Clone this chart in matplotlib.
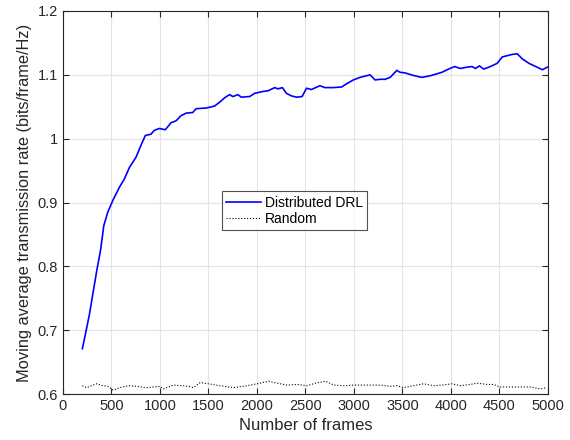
import matplotlib
matplotlib.use("Agg")
import matplotlib.pyplot as plt

plt.rcParams['font.family'] = ['Liberation Sans', 'DejaVu Sans']

drl_x = [200, 233, 274, 308, 349, 387, 421, 462, 513, 582, 633, 685, 753, 805, 849, 907,
         941, 993, 1055, 1114, 1166, 1217, 1269, 1338, 1373, 1476, 1562, 1614, 1666, 1717,
         1752, 1803, 1838, 1924, 1976, 2062, 2114, 2183, 2216, 2262, 2303, 2355, 2407, 2465,
         2510, 2562, 2648, 2700, 2786, 2873, 2924, 2993, 3062, 3114, 3166, 3218, 3269, 3321,
         3373, 3442, 3475, 3527, 3613, 3700, 3769, 3820, 3907, 3975, 4037, 4096, 4165, 4217,
         4252, 4293, 4338, 4407, 4476, 4528, 4580, 4631, 4683, 4735, 4804, 4873, 4942, 4994]
drl_y = [0.671, 0.695, 0.726, 0.757, 0.794, 0.825, 0.864, 0.885, 0.903, 0.924, 0.937, 0.955,
         0.971, 0.990, 1.005, 1.007, 1.013, 1.016, 1.014, 1.025, 1.028, 1.036, 1.040, 1.041,
         1.047, 1.048, 1.051, 1.057, 1.064, 1.069, 1.066, 1.069, 1.065, 1.066, 1.071, 1.074,
         1.075, 1.080, 1.078, 1.080, 1.071, 1.067, 1.065, 1.066, 1.079, 1.077, 1.083, 1.080,
         1.080, 1.081, 1.086, 1.092, 1.096, 1.098, 1.100, 1.092, 1.093, 1.093, 1.096, 1.107,
         1.104, 1.103, 1.099, 1.096, 1.098, 1.100, 1.104, 1.109, 1.113, 1.110, 1.112, 1.113,
         1.110, 1.114, 1.109, 1.113, 1.118, 1.128, 1.130, 1.132, 1.133, 1.125, 1.118, 1.113,
         1.108, 1.112]

rnd_x = [200, 241, 293, 345, 414, 466, 517, 586, 672, 759, 862, 1000, 1035, 1138, 1241,
         1293, 1345, 1414, 1500, 1621, 1759, 1897, 2000, 2121, 2207, 2310, 2414, 2517, 2603,
         2707, 2793, 2897, 3000, 3131, 3269, 3373, 3442, 3510, 3614, 3718, 3821, 3907, 4010,
         4097, 4200, 4269, 4373, 4441, 4500, 4610, 4714, 4817, 4921, 4990]
rnd_y = [0.613, 0.610, 0.613, 0.616, 0.613, 0.612, 0.606, 0.610, 0.613, 0.612, 0.610, 0.612,
         0.608, 0.614, 0.613, 0.612, 0.610, 0.618, 0.616, 0.613, 0.610, 0.613, 0.616, 0.620,
         0.617, 0.614, 0.615, 0.613, 0.617, 0.620, 0.614, 0.613, 0.614, 0.614, 0.614, 0.612,
         0.613, 0.610, 0.613, 0.616, 0.613, 0.614, 0.616, 0.613, 0.615, 0.617, 0.615, 0.615,
         0.611, 0.611, 0.611, 0.611, 0.608, 0.610]

x_ticks = [0, 500, 1000, 1500, 2000, 2500, 3000, 3500, 4000, 4500, 5000]
y_ticks = [0.6, 0.7, 0.8, 0.9, 1.0, 1.1, 1.2]
y_ticklabels = ['0.6', '0.7', '0.8', '0.9', '1', '1.1', '1.2']

fig = plt.figure(figsize=(5.7, 4.4), dpi=100)
ax = fig.add_axes([0.1105, 0.1045, 0.8509, 0.8705])

ax.plot(drl_x, drl_y, color='#0000ff', linewidth=1.2, label='Distributed DRL')
ax.plot(rnd_x, rnd_y, color='black', linestyle=':', linewidth=0.8, label='Random')

ax.set_xlim(0, 5000)
ax.set_ylim(0.6, 1.2)
ax.set_xticks(x_ticks)
ax.set_yticks(y_ticks)
ax.set_yticklabels(y_ticklabels)

tc = '#262626'
ax.grid(True, color='#e3e3e3', linewidth=0.8)
ax.set_axisbelow(True)
ax.tick_params(direction='in', top=True, right=True, labelsize=10.5, colors=tc, length=4)
for s in ax.spines.values():
    s.set_color(tc)
    s.set_linewidth(0.8)

ax.set_xlabel('Number of frames', fontsize=12, color=tc)
ax.set_ylabel('Moving average transmission rate (bits/frame/Hz)', fontsize=11.8, color=tc)

leg = ax.legend(loc='center', bbox_to_anchor=(0.478, 0.478), fontsize=10, frameon=True,
                fancybox=False, edgecolor=tc, handlelength=2.5, borderpad=0.3,
                labelspacing=0.2, handletextpad=0.3, borderaxespad=0)
leg.get_frame().set_linewidth(0.8)

fig.savefig('out.png', dpi=100)
